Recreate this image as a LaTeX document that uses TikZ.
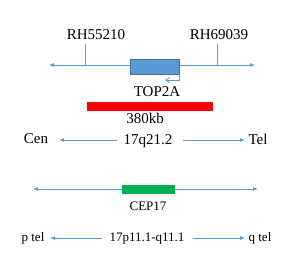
\documentclass[tikz,border=0pt]{standalone}
\usepackage{fontspec}
\setmainfont{Liberation Serif}
\usepackage{tikz}
\usetikzlibrary{arrows.meta, positioning}
\definecolor{lineblue}{HTML}{5B9BD5}
\definecolor{boxblue}{HTML}{5B9BD5}
\definecolor{boxedge}{HTML}{41719C}
\definecolor{barred}{HTML}{FF0000}
\definecolor{bargreen}{HTML}{00B050}
\tikzset{
    chrline/.style={draw=lineblue, line width=0.8pt, {Latex[length=5pt,width=4pt]}-{Latex[length=5pt,width=4pt]}},
    dirarrow/.style={draw=lineblue, line width=0.8pt, -{Latex[length=5pt,width=4pt]}},
    bigtext/.style={font=\fontsize{15}{18}\selectfont, inner sep=0pt},
    midtext/.style={font=\fontsize{13}{16}\selectfont, inner sep=0pt},
}

\begin{document}
\begin{tikzpicture}[x=1pt, y=-1pt]
    \useasboundingbox (0,0) rectangle (300,271);
    % TOP2A locus with markers
    \coordinate (l1a) at (49,65);
    \coordinate (l1b) at (255,65);
    \draw[chrline] (l1a) -- (l1b);
    \node[bigtext] (rh1) at (96,35) {RH55210};
    \node[bigtext] (rh2) at (219,35) {RH69039};
    \draw[lineblue, line width=0.8pt] (85,44) -- (85,65);
    \draw[lineblue, line width=0.8pt] (217,44) -- (217,65);
    \filldraw[fill=boxblue, draw=boxedge, line width=0.6pt] (130,59) rectangle (179,74);
    \draw[lineblue, line width=0.8pt, -{Straight Barb[length=4pt,width=5pt]}] (179,74) -- (179,80) -- (165,80);
    \node[bigtext] (top2a) at (157,92) {TOP2A};
    % probe
    \fill[barred] (87,102) rectangle (213,111);
    \node[bigtext] (size) at (145,118) {380kb};
    % orientation
    \node[bigtext] (cen) at (36,139) {Cen};
    \node[bigtext] (band) at (148,141) {17q21.2};
    \node[bigtext] (tel) at (258,139) {Tel};
    \coordinate (a1s) at (117,140);
    \coordinate (a1e) at (59,140);
    \coordinate (a2s) at (183,140);
    \coordinate (a2e) at (245,140);
    \draw[dirarrow] (a1s) -- (a1e);
    \draw[dirarrow] (a2s) -- (a2e);
    % centromere probe
    \coordinate (l2a) at (33,189);
    \coordinate (l2b) at (258,189);
    \draw[chrline] (l2a) -- (l2b);
    \fill[bargreen] (122,185) rectangle (175,194);
    \node[midtext] (cep) at (148,206) {CEP17};
    \node[midtext] (ptel) at (33,238) {p tel};
    \node[midtext] (cband) at (147,239) {17p11.1-q11.1};
    \node[midtext] (qtel) at (260,238) {q tel};
    \coordinate (b1s) at (102,238);
    \coordinate (b1e) at (50,238);
    \coordinate (b2s) at (193,238);
    \coordinate (b2e) at (245,238);
    \draw[dirarrow] (b1s) -- (b1e);
    \draw[dirarrow] (b2s) -- (b2e);
\end{tikzpicture}
\end{document}
